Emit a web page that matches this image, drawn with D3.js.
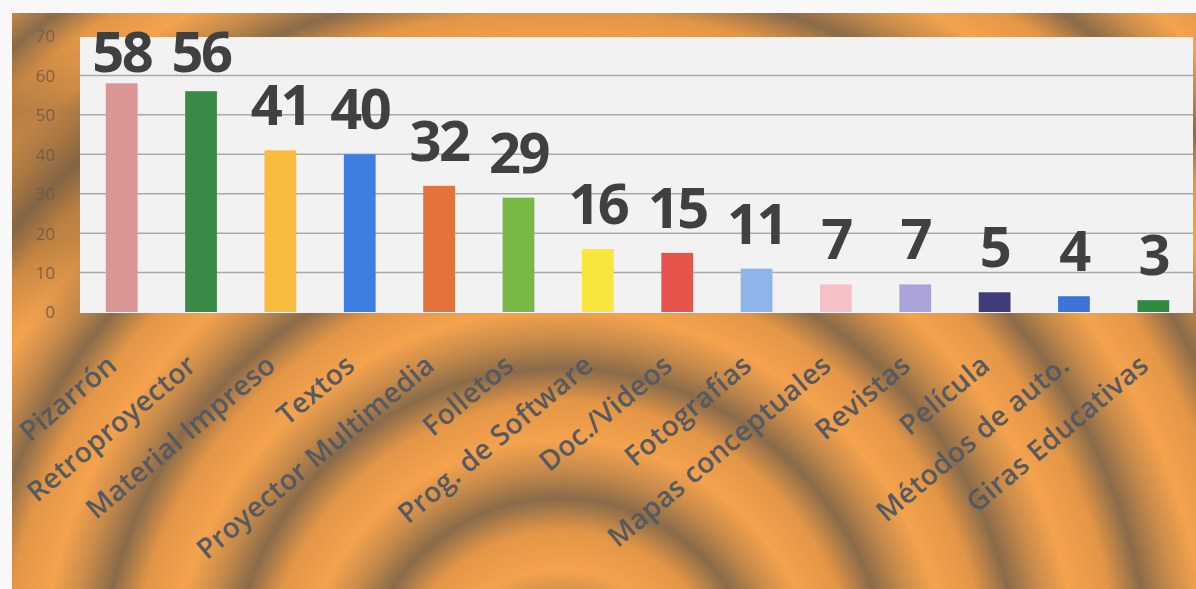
<!DOCTYPE html>
<html><head><meta charset="utf-8">
<script src="https://cdn.jsdelivr.net/npm/d3@7"></script>
<style>html,body{margin:0;padding:0;background:#f8f8f8;}svg{display:block;}</style>
</head><body>
<svg id="chart" width="1196" height="589"></svg>
<script>
const categories = ["Pizarrón","Retroproyector","Material  Impreso","Textos","Proyector Multimedia","Folletos","Prog. de Software","Doc./Videos","Fotografías","Mapas conceptuales","Revistas","Película","Métodos de auto.","Giras Educativas"];
const values = [58,56,41,40,32,29,16,15,11,7,7,5,4,3];
const barColors = ["#d99694","#3a8a47","#f8bb3d","#3e7ee0","#e3723b","#78b845","#f8e63c","#e8544b","#8db5ea","#f5c1c6","#aba4d9","#403b79","#3e74d8","#2f8a40"];
const yTicks = [0,10,20,30,40,50,60,70];

const W = 1196, H = 589;
const svg = d3.select("#chart");
const defs = svg.append("defs");

const g1 = defs.append("radialGradient").attr("id","rings")
  .attr("gradientUnits","userSpaceOnUse").attr("cx",560).attr("cy",700).attr("r",130)
  .attr("spreadMethod","repeat");
[[0,"#f4a24d"],[0.3,"#e39646"],[0.55,"#8a6b49"],[0.78,"#c98b4a"],[1,"#f4a24d"]]
  .forEach(([o,c]) => g1.append("stop").attr("offset",o).attr("stop-color",c));

const g2 = defs.append("linearGradient").attr("id","leftShade").attr("x1",0).attr("x2",0).attr("y1",0).attr("y2",1);
[[0,"#7a5a38",0.0],[0.25,"#7a5a38",0.45],[0.7,"#7a5a38",0.35],[1,"#7a5a38",0.0]]
  .forEach(([o,c,a]) => g2.append("stop").attr("offset",o).attr("stop-color",c).attr("stop-opacity",a));

svg.append("rect").attr("width",W).attr("height",H).attr("fill","#f8f8f8");
svg.append("rect").attr("x",12).attr("y",13).attr("width",W-12).attr("height",H-13).attr("fill","url(#rings)");
svg.append("rect").attr("x",12).attr("y",37).attr("width",68).attr("height",290).attr("fill","url(#leftShade)");

const plot = {x0:80, x1:1193, y0:37, y1:313};
svg.append("rect").attr("x",plot.x0).attr("y",plot.y0)
  .attr("width",plot.x1-plot.x0).attr("height",plot.y1-plot.y0).attr("fill","#f2f2f2");

const x = d3.scaleBand().domain(categories).range([82,1193]).paddingInner(0.6).paddingOuter(0.3);
const y = d3.scaleLinear().domain([0,70]).range([312,36]);

svg.append("g").selectAll("line").data(yTicks.filter(t=>t>0 && t<70)).join("line")
  .attr("x1",plot.x0).attr("x2",plot.x1)
  .attr("y1",d=>y(d)).attr("y2",d=>y(d))
  .attr("stroke","#a9a9a9").attr("stroke-width",1.5);

const yAxis = d3.axisLeft(y).tickValues(yTicks).tickSize(0).tickPadding(0);
const ya = svg.append("g").attr("transform","translate(55,0)").call(yAxis);
ya.select(".domain").remove();
ya.selectAll("text").attr("font-family","'Open Sans',sans-serif").attr("font-size",17)
  .attr("fill","#6a5a48").attr("fill-opacity",0.85).attr("dy","0.35em");

svg.append("g").selectAll("rect").data(values).join("rect")
  .attr("x",(d,i)=>x(categories[i])).attr("width",x.bandwidth())
  .attr("y",d=>y(d)).attr("height",d=>y(0)-y(d))
  .attr("fill",(d,i)=>barColors[i]);

svg.append("g").selectAll("text").data(values).join("text")
  .attr("x",(d,i)=>x(categories[i])+x.bandwidth()/2)
  .attr("y",d=>Math.max(y(d)-25,72))
  .attr("text-anchor","middle")
  .attr("font-family","'Open Sans',sans-serif").attr("font-weight",700).attr("font-size",56)
  .attr("letter-spacing",-2.5)
  .attr("fill","#404040").text(d=>d);

const xAxis = d3.axisBottom(x).tickSize(0).tickPadding(0);
const xa = svg.append("g").call(xAxis);
xa.select(".domain").remove();
xa.selectAll(".tick").attr("transform",d=>`translate(${x(d)+x.bandwidth()/2-3},368)`);
xa.selectAll("text").attr("y",0).attr("dy",0)
  .attr("text-anchor","end").attr("transform","rotate(-40)")
  .attr("font-family","'Open Sans',sans-serif").attr("font-weight",600).attr("font-size",28)
  .attr("letter-spacing",0.3)
  .attr("fill","#555960");
</script>
</body></html>
